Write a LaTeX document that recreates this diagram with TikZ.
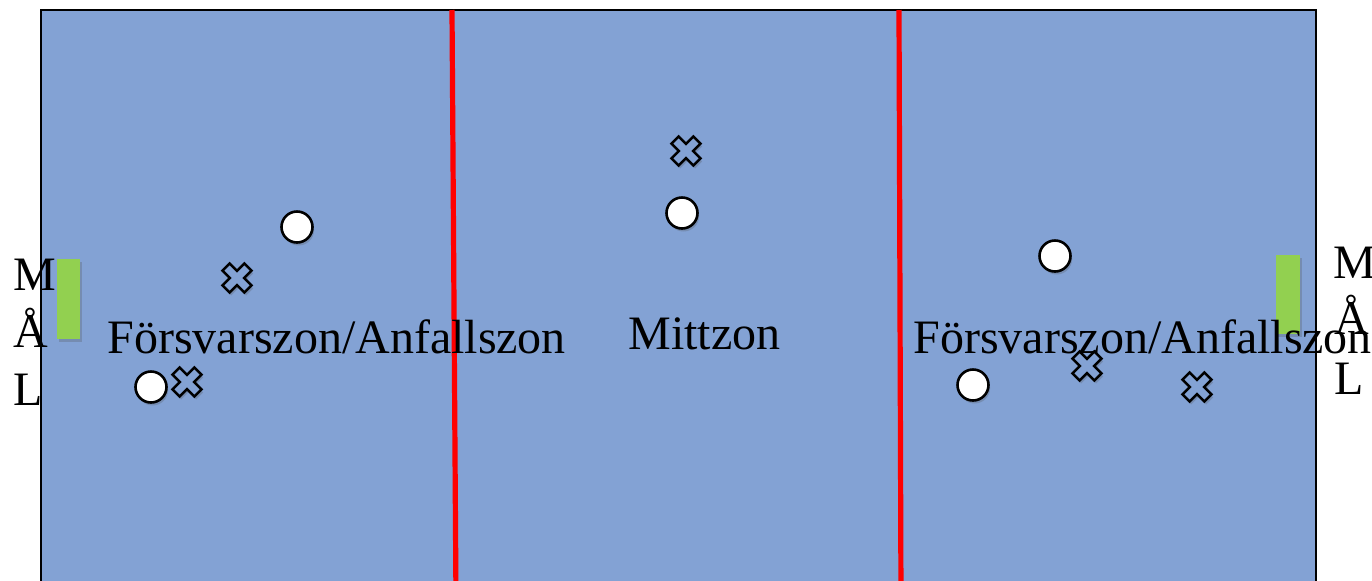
\documentclass[tikz,border=0pt]{standalone}
\usepackage{fontspec}
\setmainfont{Liberation Serif}
\usetikzlibrary{shadows}
\definecolor{court}{RGB}{131,162,212}
\definecolor{goalgreen}{RGB}{146,208,80}
\definecolor{zonered}{RGB}{255,0,0}
\tikzset{
  x=0.5pt, y=-0.5pt,
  shd/.style={drop shadow={opacity=0.25, shadow xshift=0.8pt, shadow yshift=-1.5pt, fill=black!70}},
  player/.style={circle, draw=black, line width=1.3pt, fill=white, minimum size=15.5pt, inner sep=0pt, shd},
  goalbox/.style={fill=goalgreen, draw=none, shd},
  zoneline/.style={draw=zonered, line width=2.6pt},
  lbl/.style={font=\fontsize{24}{28}\selectfont, inner sep=0pt, anchor=base west, text=black},
  xmark/.pic={
    \draw[line width=1.25pt, line join=miter, fill=court, shd, rotate=45]
      (-5,-15.5) -- (5,-15.5) -- (5,-5) -- (15.5,-5) -- (15.5,5) -- (5,5) -- (5,15.5)
      -- (-5,15.5) -- (-5,5) -- (-15.5,5) -- (-15.5,-5) -- (-5,-5) -- cycle;
  }
}
\begin{document}
\begin{tikzpicture}
\clip (0,0) rectangle (1372,580);
\fill[white] (0,0) rectangle (1372,580);
% court
\draw[fill=court, line width=1pt] (41,10) rectangle (1316,600);
% zone lines
\coordinate (r1t) at (452,10); \coordinate (r1b) at (456,600);
\coordinate (r2t) at (899,10); \coordinate (r2b) at (901,600);
\draw[zoneline] (r1t) -- (r1b);
\draw[zoneline] (r2t) -- (r2b);
% goals
\path[goalbox] (57,259) rectangle (80,339);
\path[goalbox] (1276,255) rectangle (1300,334);
% labels
\node[lbl] (zl) at (107,353) {Försvarszon/Anfallszon};
\node[lbl] (zm) at (628,349) {Mittzon};
\node[lbl] (zr) at (913,353) {Försvarszon/Anfallszon};
\node[lbl] (ml1) at (13,290) {M};
\node[lbl] (ml2) at (13,347) {Å};
\node[lbl] (ml3) at (13,405) {L};
\node[lbl] (mr1) at (1333,278) {M};
\node[lbl] (mr2) at (1334,334) {Å};
\node[lbl] (mr3) at (1334,394) {L};
% players
\node[player] (p1) at (297,227) {};
\node[player] (p2) at (151,387) {};
\node[player] (p3) at (682,213) {};
\node[player] (p4) at (1055,256) {};
\node[player] (p5) at (973,385) {};
% opponents
\pic (x1) at (237,278) {xmark};
\pic (x2) at (187,382) {xmark};
\pic (x3) at (686,151) {xmark};
\pic (x4) at (1087,366) {xmark};
\pic (x5) at (1197,387) {xmark};
\end{tikzpicture}
\end{document}
